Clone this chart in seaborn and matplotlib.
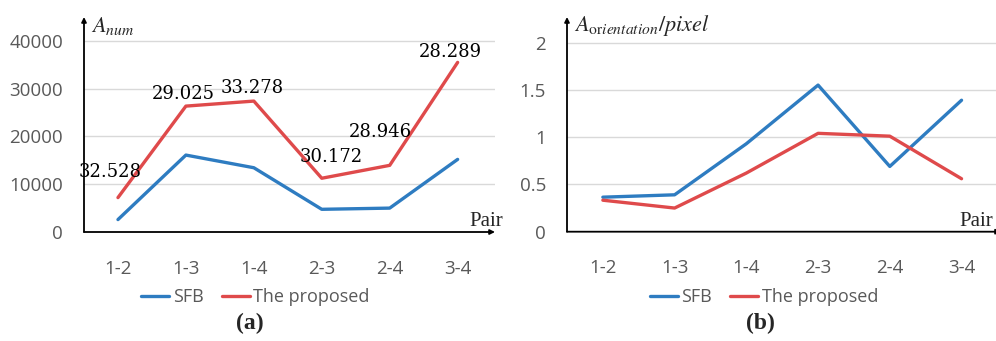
import matplotlib
matplotlib.use("Agg")
import matplotlib.pyplot as plt
import seaborn as sns
import pandas as pd

# Image pairs on the horizontal axis
pairs = ["1-2", "1-3", "1-4", "2-3", "2-4", "3-4"]

# (a) number of matched features
num_sfb = [2600, 16100, 13450, 4750, 5000, 15200]
num_proposed = [7200, 26350, 27400, 11250, 13950, 35500]
num_notes = ["32.528", "29.025", "33.278", "30.172", "28.946", "28.289"]

# (b) orientation accuracy per pixel
ori_sfb = [0.365, 0.39, 0.93, 1.55, 0.69, 1.39]
ori_proposed = [0.333, 0.25, 0.62, 1.04, 1.01, 0.56]

series_names = ["SFB", "The proposed"]
palette = {"SFB": "#2E7CC1", "The proposed": "#DF4A4B"}

# note label offsets (pixels) so the texts sit clear of the red line
note_offsets = [(-8, 26), (-3, 12), (-2, 13), (9, 21), (-9, 33), (-7, 10)]

W, H = 996, 341


def long_frame(a, b):
    return pd.DataFrame({
        "Pair": pairs * 2,
        "value": list(a) + list(b),
        "series": [series_names[0]] * len(a) + [series_names[1]] * len(b),
    })


sns.set_theme(style="white")
plt.rcParams["font.family"] = ["Open Sans", "DejaVu Sans"]
plt.rcParams["mathtext.fontset"] = "stix"

fig = plt.figure(figsize=(W / 100, H / 100), dpi=100)

# axes boxes in pixels: left, bottom(y of zero line), right, top
boxes = [
    (84, 232, 495, 17),
    (567, 231.7, 1001, 17),
]
axes = []
for (l, b, r, t) in boxes:
    ax = fig.add_axes([l / W, 1 - b / H, (r - l) / W, (b - t) / H])
    axes.append(ax)

ax_a, ax_b = axes

sns.lineplot(data=long_frame(num_sfb, num_proposed), x="Pair", y="value",
             hue="series", palette=palette, sort=False, lw=2.4, ax=ax_a,
             legend=True)
sns.lineplot(data=long_frame(ori_sfb, ori_proposed), x="Pair", y="value",
             hue="series", palette=palette, sort=False, lw=2.4, ax=ax_b,
             legend=True)

ax_a.set_ylim(0, 45000)
ax_a.set_yticks([0, 10000, 20000, 30000, 40000])
ax_a.set_yticklabels(["0", "10000", "20000", "30000", "40000"])
ax_b.set_ylim(0, 2.27)
ax_b.set_yticks([0, 0.5, 1, 1.5, 2])
ax_b.set_yticklabels(["0", "0.5", "1", "1.5", "2"])

for ax in axes:
    ax.set_xlim(-0.5, 5.55)
    ax.set_xlabel("")
    ax.set_ylabel("")
    for s in ax.spines.values():
        s.set_visible(False)
    ax.grid(axis="y", color="#D9D9D9", lw=1.0)
    ax.set_axisbelow(True)
    ax.tick_params(axis="both", length=0, colors="#595959", labelsize=13.5)
    ax.tick_params(axis="y", pad=15)
    ax.tick_params(axis="x", pad=20)
    # axis lines with arrow heads
    ax.annotate("", xy=(0, 1), xytext=(0, 0), xycoords="axes fraction",
                arrowprops=dict(arrowstyle="-|>", lw=1.3, color="black",
                                mutation_scale=7, shrinkA=0, shrinkB=0))
    ax.annotate("", xy=(1, 0), xytext=(0, 0), xycoords="axes fraction",
                arrowprops=dict(arrowstyle="-|>", lw=1.3, color="black",
                                mutation_scale=7, shrinkA=0, shrinkB=0))

# numeric notes above the proposed curve in (a)
for i, (note, (dx, dy)) in enumerate(zip(num_notes, note_offsets)):
    ax_a.annotate(note, xy=(pairs[i], num_proposed[i]), xytext=(dx, dy),
                  textcoords="offset pixels", ha="center", va="center",
                  fontsize=13, family="DejaVu Serif", color="black")

# axis titles
fig.text(91 / W, 1 - 26 / H, r"$A_{num}$", fontsize=16, ha="left", va="center")
fig.text(574 / W, 1 - 25 / H, r"$A_{\mathrm{or}ientation}/pixel$", fontsize=16,
         ha="left", va="center")
fig.text(469 / W, 1 - 222 / H, "Pair", fontsize=15, family="Liberation Serif",
         ha="left", va="center")
fig.text(993 / W, 1 - 222 / H, "Pair", fontsize=15, family="Liberation Serif",
         ha="right", va="center")

# legends below each panel
for ax, cx in ((ax_a, 255.5), (ax_b, 764)):
    handles, labels = ax.get_legend_handles_labels()
    ax.legend(handles, labels, loc="center", ncol=2, frameon=False,
              bbox_to_anchor=(cx / W, 1 - 297 / H), bbox_transform=fig.transFigure,
              fontsize=13, handlelength=1.55, handletextpad=0.2,
              columnspacing=1.0, labelcolor="#595959")
    for ln in ax.get_legend().get_lines():
        ln.set_linewidth(2.4)

# panel captions
fig.text(250 / W, 1 - 323 / H, "(a)", fontsize=17, family="Liberation Serif",
         fontweight="bold", ha="center", va="center")
fig.text(760 / W, 1 - 323 / H, "(b)", fontsize=17, family="Liberation Serif",
         fontweight="bold", ha="center", va="center")

fig.savefig("out.png", dpi=100)
